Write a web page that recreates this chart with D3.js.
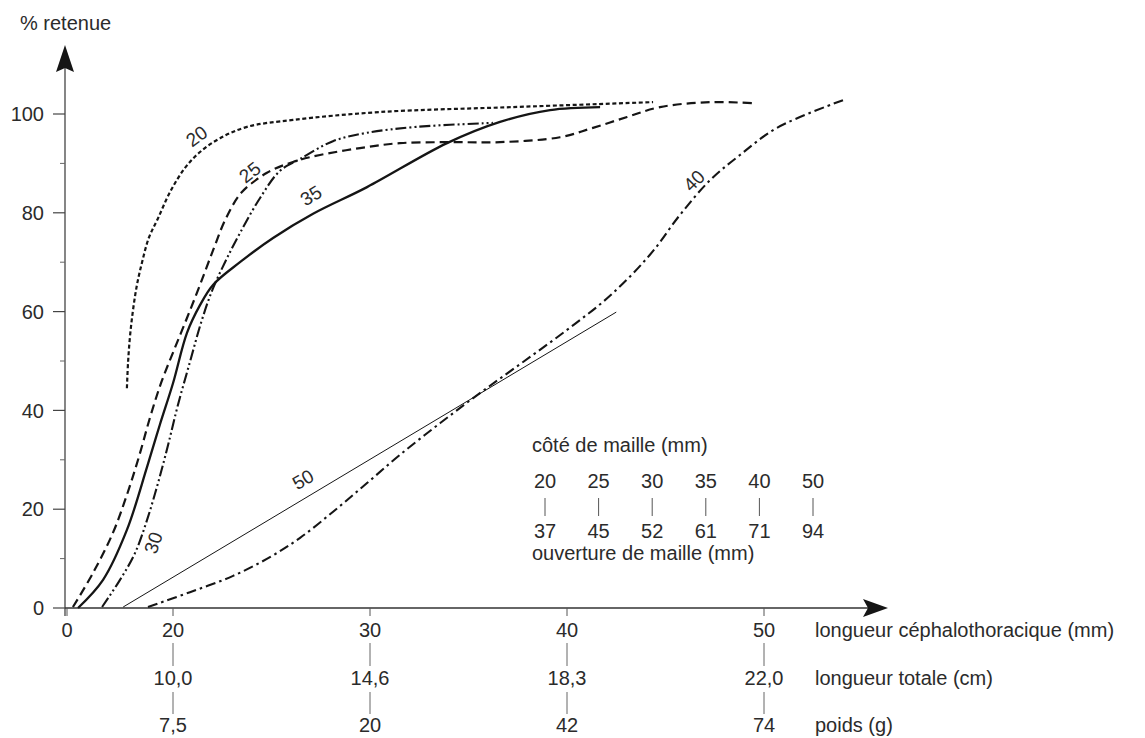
<!DOCTYPE html>
<html>
<head>
<meta charset="utf-8">
<script src="https://cdn.jsdelivr.net/npm/d3@7"></script>
<style>
  body { margin: 0; background: #fff; }
  text { font-family: "Liberation Sans", Arial, sans-serif; fill: #2b2b2b; }
</style>
</head>
<body>
<svg id="chart" width="1145" height="738"></svg>
<script>
// mesh sizes (legend)
var sideValues = ["20", "25", "30", "35", "40", "50"];
var openingValues = ["37", "45", "52", "61", "71", "94"];

// x axis rows
var xTicks = [20, 30, 40, 50];
var totalLength = ["10,0", "14,6", "18,3", "22,0"];
var weight = ["7,5", "20", "42", "74"];
var rowLabels = ["longueur céphalothoracique (mm)", "longueur totale (cm)", "poids (g)"];

var yTicks = [0, 20, 40, 60, 80, 100];
var yMinor = [10, 30, 50, 70, 90];

// selection curves : [carapace length mm, % retained]
var curve20 = [[17.66,44.5],[17.72,49.8],[17.82,55.1],[17.97,60.3],[18.17,65.4],[18.43,70],[18.78,75],[19.24,78.9],[19.85,84.2],[20.61,89.1],[21.37,92.3],[22.39,95.1],[23.76,97.4],[26.09,98.8],[30.51,100.4],[37.26,101.4],[44.37,102.4]];
var curve25 = [[14.92,0.2],[15.94,7.1],[16.95,15.2],[17.66,22.9],[18.27,30.6],[18.83,38.5],[19.39,45.5],[20.05,52.2],[20.71,58.7],[21.37,65.4],[22.08,72.9],[22.69,78.9],[23.5,84.2],[24.77,88.1],[26.09,90.3],[27.46,91.7],[29.49,93.1],[31.52,94.1],[34.06,94.3],[36.6,94.3],[39.64,95.3],[41.32,97.2],[43.05,99.4],[44.72,101.4],[47.26,102.4],[49.39,102.2]];
var curve30 = [[16.4,0.2],[17.31,5.7],[18.07,11.1],[18.68,17.8],[19.24,25.3],[19.75,33],[20.25,41.1],[20.86,49.8],[21.42,57.7],[21.98,64.2],[22.64,70],[23.4,75.9],[24.42,83],[25.43,88.5],[26.45,90.9],[28.12,94.5],[29.85,96.2],[32.39,97.4],[36.24,98.2]];
var curve35 = [[15.18,0],[16.45,5.7],[17.66,15.8],[18.68,28.5],[19.34,37.2],[20,45.5],[20.71,55.7],[21.37,61.3],[22.03,65.4],[23.4,70],[25.08,74.9],[27.11,79.8],[29.85,85.2],[33.91,94.1],[36.6,98.4],[39.14,100.8],[41.68,101.4]];
var curve40 = [[18.73,0.2],[20.86,3.2],[23.05,6.5],[24.92,10.3],[26.45,14.2],[28.22,19.8],[29.85,25.3],[31.52,31],[33.55,37.4],[35.58,43.5],[37.77,49.8],[40,56.3],[42.18,63.2],[44.21,71.5],[45.74,79.6],[47.26,86.6],[48.78,91.7],[50.66,97.2],[54.01,102.8]];
var curve50 = [[17.47,0.2],[42.5,59.9]];

var curves = [
  {id:"20", pts:curve20, dash:"4,2.6", width:2.2, lab:[21.2,95.5], rot:-36},
  {id:"25", pts:curve25, dash:"9,5", width:2.2, lab:[23.9,88.2], rot:-38},
  {id:"30", pts:curve30, dash:"11,3,2,3,2,3", width:2.1, lab:[19.0,13.2], rot:-72},
  {id:"35", pts:curve35, dash:null, width:2.3, lab:[27.0,83.5], rot:-32},
  {id:"40", pts:curve40, dash:"10,4,2.5,4", width:2.1, lab:[46.45,86.5], rot:-45},
  {id:"50", pts:curve50, dash:null, width:1, lab:[26.6,26.0], rot:-30}
];

var svg = d3.select("#chart");
var x = d3.scaleLinear().domain([20, 50]).range([173, 764]);
var y = d3.scaleLinear().domain([0, 100]).range([608, 114]);
var axisX = 65;          // y axis position (broken origin)
var arrowX = 888, arrowY = 45;

var ink = "#151515";

// y axis
svg.append("line").attr("x1", axisX).attr("x2", axisX)
  .attr("y1", y(0) + 8).attr("y2", arrowY + 20)
  .attr("stroke", "#444").attr("stroke-width", 1.3);
svg.append("path")
  .attr("d", "M" + axisX + "," + arrowY + " L" + (axisX - 9) + "," + (arrowY + 27) +
    " L" + axisX + "," + (arrowY + 23) + " L" + (axisX + 9) + "," + (arrowY + 27) + "Z")
  .attr("fill", ink);

svg.selectAll(".ytick").data(yTicks).enter().append("line")
  .attr("x1", axisX - 12).attr("x2", axisX)
  .attr("y1", function(d) { return y(d); }).attr("y2", function(d) { return y(d); })
  .attr("stroke", "#444").attr("stroke-width", 1.2);
svg.selectAll(".yminor").data(yMinor).enter().append("line")
  .attr("x1", axisX - 5).attr("x2", axisX)
  .attr("y1", function(d) { return y(d); }).attr("y2", function(d) { return y(d); })
  .attr("stroke", "#666").attr("stroke-width", 1);
svg.selectAll(".ylab").data(yTicks).enter().append("text")
  .attr("x", 44).attr("y", function(d) { return y(d); }).attr("dy", "0.36em")
  .attr("text-anchor", "end").style("font-size", "20px")
  .text(function(d) { return d; });
svg.append("text").attr("x", 20).attr("y", 30).style("font-size", "20px").text("% retenue");

// x axis
svg.append("line").attr("x1", axisX).attr("x2", arrowX - 20)
  .attr("y1", y(0)).attr("y2", y(0))
  .attr("stroke", "#333").attr("stroke-width", 1.4);
svg.append("path")
  .attr("d", "M" + arrowX + "," + y(0) + " L" + (arrowX - 25) + "," + (y(0) - 9) +
    " L" + (arrowX - 20) + "," + y(0) + " L" + (arrowX - 25) + "," + (y(0) + 9) + "Z")
  .attr("fill", ink);

var rowBase = [637, 685, 732];
svg.append("line").attr("x1", axisX + 2).attr("x2", axisX + 2)
  .attr("y1", y(0)).attr("y2", y(0) + 8).attr("stroke", "#555");
svg.append("text").attr("x", axisX + 2).attr("y", rowBase[0])
  .attr("text-anchor", "middle").style("font-size", "20px").text("0");

var cols = svg.selectAll(".xcol").data(xTicks).enter().append("g")
  .attr("transform", function(d) { return "translate(" + x(d) + ",0)"; });
cols.append("line").attr("y1", y(0)).attr("y2", y(0) + 8).attr("stroke", "#555");
cols.append("line").attr("y1", 643).attr("y2", 666).attr("stroke", "#666");
cols.append("line").attr("y1", 692).attr("y2", 714).attr("stroke", "#666");
cols.append("text").attr("y", rowBase[0]).attr("text-anchor", "middle")
  .style("font-size", "20px").text(function(d) { return d; });
cols.append("text").attr("y", rowBase[1]).attr("text-anchor", "middle")
  .style("font-size", "20px").text(function(d, i) { return totalLength[i]; });
cols.append("text").attr("y", rowBase[2]).attr("text-anchor", "middle")
  .style("font-size", "20px").text(function(d, i) { return weight[i]; });

svg.selectAll(".rowlab").data(rowLabels).enter().append("text")
  .attr("x", 815).attr("y", function(d, i) { return rowBase[i]; })
  .style("font-size", "20px").text(function(d) { return d; });

// curves
var line = d3.line()
  .x(function(d) { return x(d[0]); })
  .y(function(d) { return y(d[1]); })
  .curve(d3.curveCatmullRom.alpha(0.5));

svg.selectAll(".curve").data(curves).enter().append("path")
  .attr("d", function(d) { return line(d.pts); })
  .attr("fill", "none").attr("stroke", ink)
  .attr("stroke-width", function(d) { return d.width; })
  .attr("stroke-dasharray", function(d) { return d.dash; });

svg.selectAll(".clab").data(curves).enter().append("text")
  .attr("transform", function(d) {
    return "translate(" + x(d.lab[0]) + "," + y(d.lab[1]) + ") rotate(" + d.rot + ")";
  })
  .attr("text-anchor", "middle").attr("dy", "0.35em")
  .style("font-size", "19px")
  .attr("stroke", "#fff").attr("stroke-width", 4).style("paint-order", "stroke")
  .text(function(d) { return d.id; });

// mesh legend
var lx = d3.scalePoint().domain(sideValues).range([545, 813]);
svg.append("text").attr("x", 532).attr("y", 452).style("font-size", "20px").text("côté de maille (mm)");
svg.append("text").attr("x", 532).attr("y", 560).style("font-size", "20px").text("ouverture de maille (mm)");
var lg = svg.selectAll(".lcol").data(sideValues).enter().append("g")
  .attr("transform", function(d) { return "translate(" + lx(d) + ",0)"; });
lg.append("text").attr("y", 488).attr("text-anchor", "middle").style("font-size", "20px")
  .text(function(d) { return d; });
lg.append("line").attr("y1", 498).attr("y2", 516).attr("stroke", "#555");
lg.append("text").attr("y", 538).attr("text-anchor", "middle").style("font-size", "20px")
  .text(function(d, i) { return openingValues[i]; });
</script>
</body>
</html>
